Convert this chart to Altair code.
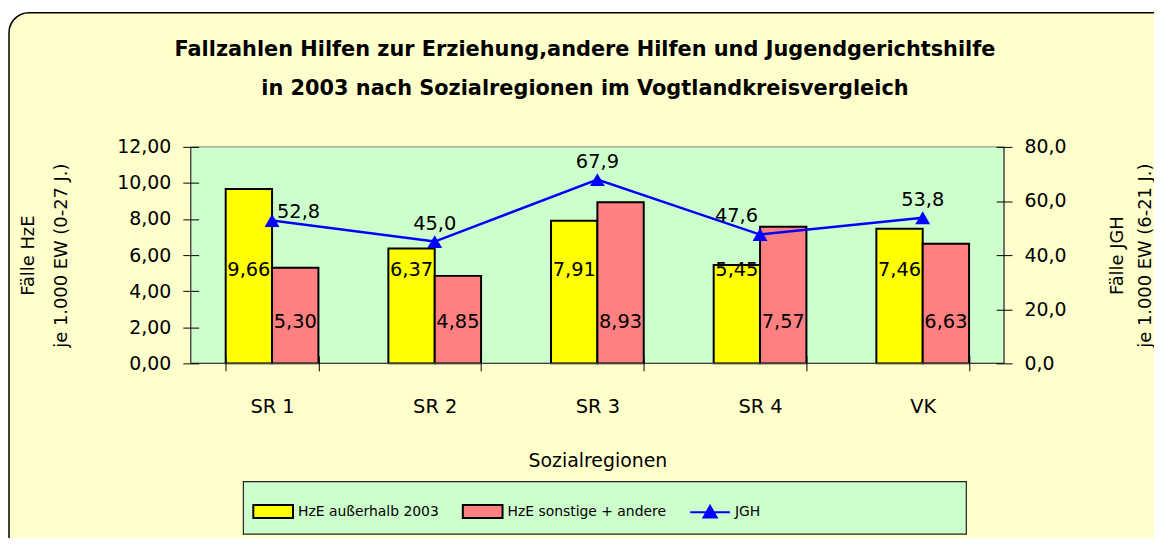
import altair as alt
import pandas as pd

categories = ["SR 1", "SR 2", "SR 3", "SR 4", "VK"]
hze_ausserhalb = [9.66, 6.37, 7.91, 5.45, 7.46]
hze_sonstige = [5.30, 4.85, 8.93, 7.57, 6.63]
jgh = [52.8, 45.0, 67.9, 47.6, 53.8]
series = ["HzE außerhalb 2003", "HzE sonstige + andere", "JGH"]
title_lines = ["Fallzahlen Hilfen zur Erziehung,andere Hilfen und Jugendgerichtshilfe",
               "in 2003 nach Sozialregionen im Vogtlandkreisvergleich"]
left_ticks = [0, 2, 4, 6, 8, 10, 12]
right_ticks = [0, 20, 40, 60, 80]

FONT = "DejaVu Sans"
W, H = 819, 218

bars_df = pd.DataFrame(
    [{"cat": c, "series": series[0], "value": v} for c, v in zip(categories, hze_ausserhalb)]
    + [{"cat": c, "series": series[1], "value": v} for c, v in zip(categories, hze_sonstige)]
)
jgh_df = pd.DataFrame({"cat": categories, "value": jgh})
legend_df = pd.DataFrame({"series": series})
title_df = pd.DataFrame({"t": ["\n".join(title_lines)]})
one = pd.DataFrame({"a": [0]})

x_enc = alt.X(
    "cat:N",
    sort=categories,
    scale=alt.Scale(domain=categories, paddingInner=0.43, paddingOuter=0.215),
    axis=alt.Axis(
        title="Sozialregionen", tickBand="extent", tickSize=15, offset=-7.5,
        domain=False, labelAngle=0, labelPadding=27, titlePadding=36,
        labelFontSize=19.5, titleFontSize=19, titleFontWeight="normal",
        zindex=1, tickColor="#000000",
    ),
)

rect_path = "M-1,-0.33L1,-0.33L1,0.33L-1,0.33Z"
line_path = "M-1,0L1,0M0,-0.32L0.33,0.26L-0.33,0.26Z"

legend = alt.Legend(
    title=None, orient="none", legendX=62, legendY=346, direction="horizontal",
    symbolSize=1600, symbolStrokeWidth=2, labelFontSize=14, labelOffset=4,
    columnPadding=20, symbolOpacity=1, padding=0, labelColor="black", labelLimit=400,
    labelFont=FONT,
)

color_scale = alt.Scale(domain=series, range=["#FFFF00", "#FF8080", "#0000FF"])
stroke_scale = alt.Scale(domain=series, range=["#000000", "#000000", "#0000FF"])
shape_scale = alt.Scale(domain=series, range=[rect_path, rect_path, line_path])
bar_fill_scale = alt.Scale(domain=series[:2], range=["#FFFF00", "#FF8080"])

# decorative frame and plot background
frame = alt.Chart(one).mark_rect(
    fill="#FFFFCC", stroke="black", strokeWidth=1.5, cornerRadius=20
).encode(x=alt.value(-183), x2=alt.value(1000), y=alt.value(-135), y2=alt.value(460))

plot_bg = alt.Chart(one).mark_rect(fill="#CCFFCC", stroke="#808080", strokeWidth=1).encode(
    x=alt.value(0), x2=alt.value(W), y=alt.value(0), y2=alt.value(H)
)

legend_box = alt.Chart(one).mark_rect(fill="#CCFFCC", stroke="#222222", strokeWidth=1.2).encode(
    x=alt.value(53), x2=alt.value(781), y=alt.value(337), y2=alt.value(390)
)

title = alt.Chart(title_df).mark_text(
    font=FONT, fontSize=21, fontWeight="bold", lineBreak="\n", lineHeight=40,
    baseline="middle", align="center", color="black",
).encode(x=alt.value(397), y=alt.value(-98), text="t:N")

# bars (left axis)
y_left = alt.Y(
    "value:Q",
    scale=alt.Scale(domain=[0, 12]),
    axis=alt.Axis(
        values=left_ticks, labelExpr="replace(format(datum.value,'.2f'),'.',',')",
        tickSize=16, offset=-8, domain=False, grid=False, labelPadding=12,
        labelFontSize=19, title=["Fälle HzE", "je 1.000 EW (0-27 J.)"],
        titleFontSize=18, titleFontWeight="normal", titleLineHeight=33,
        titlePadding=47, zindex=1, tickColor="#000000",
    ),
)
xoff = alt.XOffset("series:N", scale=alt.Scale(domain=series[:2], paddingInner=0, paddingOuter=0))

bars = alt.Chart(bars_df).mark_bar(stroke="black", strokeWidth=2).encode(
    x=x_enc, xOffset=xoff, y=y_left,
    fill=alt.Fill("series:N", scale=bar_fill_scale, legend=None),
)

bar_lbl_base = alt.Chart(bars_df).transform_calculate(
    lbl="replace(format(datum.value,'.2f'),'.',',')"
)
lbl_yellow = bar_lbl_base.transform_filter(alt.datum.series == series[0]).mark_text(
    font=FONT, fontSize=19.5, baseline="middle", color="black"
).encode(x=x_enc, xOffset=xoff, y=alt.value(124), text="lbl:N")
lbl_pink = bar_lbl_base.transform_filter(alt.datum.series == series[1]).mark_text(
    font=FONT, fontSize=19.5, baseline="middle", color="black"
).encode(x=x_enc, xOffset=xoff, y=alt.value(176), text="lbl:N")

left = alt.layer(bars, lbl_yellow, lbl_pink)

# JGH line (right axis)
y_right = alt.Y(
    "value:Q",
    scale=alt.Scale(domain=[0, 80]),
    axis=alt.Axis(
        orient="right", values=right_ticks,
        labelExpr="replace(format(datum.value,'.1f'),'.',',')",
        tickSize=16, offset=-8, domain=False, grid=False, labelPadding=12,
        labelFontSize=19, title=["Fälle JGH", "je 1.000 EW (6-21 J.)"],
        titleFontSize=18, titleFontWeight="normal", titleLineHeight=28.5,
        titlePadding=32, zindex=1, tickColor="#000000", titleAngle=270,
    ),
)
jbase = alt.Chart(jgh_df)
line = jbase.mark_line(color="#0000FF", strokeWidth=2.5).encode(x=x_enc, y=y_right)
pts = jbase.mark_point(shape="triangle-up", filled=True, size=225, color="#0000FF", opacity=1).encode(
    x=x_enc, y=y_right
)
jl = jbase.transform_calculate(lbl="replace(format(datum.value,'.1f'),'.',',')")
jl_center = jl.transform_filter(
    alt.FieldOneOfPredicate(field="cat", oneOf=["SR 2", "SR 3", "VK"])
).mark_text(font=FONT, fontSize=19.5, baseline="middle", align="center", dy=-18, color="black").encode(
    x=x_enc, y=y_right, text="lbl:N"
)
jl_sr1 = jl.transform_filter(alt.datum.cat == "SR 1").mark_text(
    font=FONT, fontSize=19.5, baseline="middle", align="left", dx=5, dy=-9, color="black"
).encode(x=x_enc, y=y_right, text="lbl:N")
jl_sr4 = jl.transform_filter(alt.datum.cat == "SR 4").mark_text(
    font=FONT, fontSize=19.5, baseline="middle", align="right", dx=-2, dy=-19, color="black"
).encode(x=x_enc, y=y_right, text="lbl:N")

right = alt.layer(line, pts, jl_center, jl_sr1, jl_sr4)

# axis lines
rules = [
    alt.Chart(one).mark_rule(color="#404040", strokeWidth=1.2).encode(
        x=alt.value(0), y=alt.value(0), y2=alt.value(H)),
    alt.Chart(one).mark_rule(color="#404040", strokeWidth=1.2).encode(
        x=alt.value(W), y=alt.value(0), y2=alt.value(H)),
    alt.Chart(one).mark_rule(color="#404040", strokeWidth=1.2).encode(
        x=alt.value(0), x2=alt.value(W), y=alt.value(H)),
]

# legend-only layer (invisible points)
legend_layer = alt.Chart(legend_df).mark_point(filled=True, opacity=0).encode(
    color=alt.Color("series:N", scale=color_scale, legend=legend),
    stroke=alt.Stroke("series:N", scale=stroke_scale, legend=legend),
    shape=alt.Shape("series:N", scale=shape_scale, legend=legend),
)

chart = alt.layer(
    frame, plot_bg, legend_box, title, left, right, *rules, legend_layer
).resolve_scale(y="independent").properties(
    width=W, height=H,
    autosize=alt.AutoSizeParams(type="none"),
    padding={"left": 184, "top": 138, "right": 151, "bottom": 174},
).configure(font=FONT).configure_view(stroke=None).configure_axis(
    labelColor="black", titleColor="black", labelFont=FONT, titleFont=FONT
)

chart.save("out.html", embed_options={"renderer": "svg", "actions": False})
